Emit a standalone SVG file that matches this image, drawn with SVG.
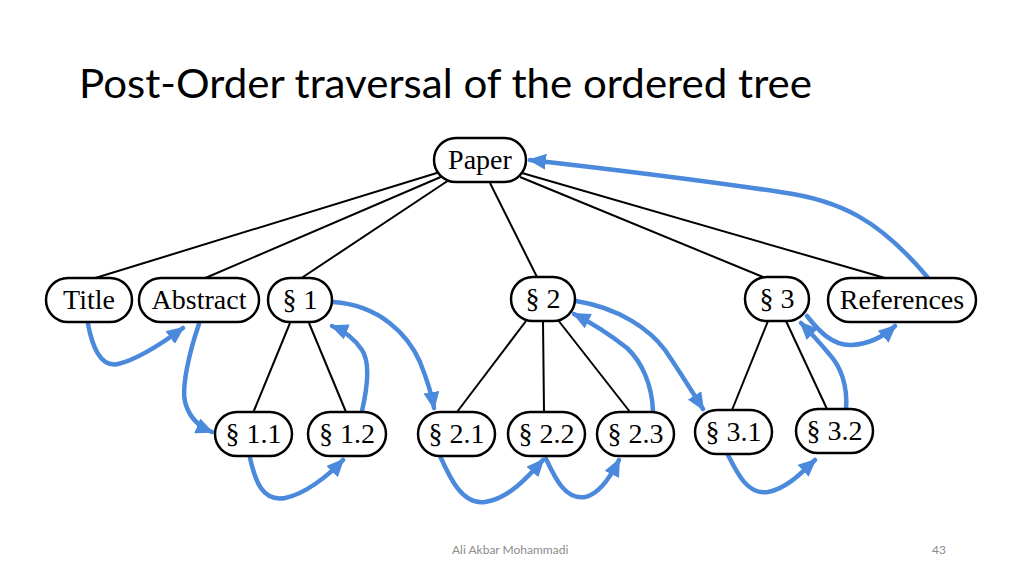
<svg xmlns="http://www.w3.org/2000/svg" width="1024" height="576" viewBox="0 0 1024 576">
<style>
.node rect{fill:#fff;stroke:#000;stroke-width:2.5}
.node text{font-family:"Liberation Serif","Times New Roman",serif;font-size:28px;fill:#000;text-anchor:middle}
.tree line{stroke:#000;stroke-width:2}
.trav path{fill:none;stroke:#4A89DC;stroke-width:4.5;stroke-linecap:round;marker-end:url(#ah)}
</style>
<defs>
<marker id="ah" markerUnits="userSpaceOnUse" markerWidth="20" markerHeight="16" refX="16" refY="8" orient="auto">
<path d="M0,0 L18,8 L0,16 z" fill="#4A89DC"/>
</marker>
</defs>
<rect width="1024" height="576" fill="#fff"/>
<text x="79" y="98" font-family="Lato,'Open Sans',sans-serif" font-size="40" textLength="733" lengthAdjust="spacingAndGlyphs" fill="#000">Post-Order traversal of the ordered tree</text>
<g id="connectors">
<g class="tree">
<line x1="440" y1="172" x2="92" y2="279"/>
<line x1="443" y1="176" x2="203" y2="279"/>
<line x1="449" y1="180" x2="300" y2="279"/>
<line x1="490" y1="183" x2="537" y2="277"/>
<line x1="520" y1="177" x2="763" y2="277"/>
<line x1="522" y1="173" x2="885" y2="278"/>
<line x1="290" y1="323" x2="253" y2="413"/>
<line x1="309" y1="323" x2="346" y2="412"/>
<line x1="526" y1="321" x2="457" y2="412"/>
<line x1="543" y1="321" x2="544" y2="412"/>
<line x1="558" y1="320" x2="630" y2="412"/>
<line x1="768" y1="321" x2="732" y2="410"/>
<line x1="786" y1="321" x2="827" y2="409"/>
</g>
<g class="trav">
<path d="M88,324 C92,345 100,368 118,364 C135,360 160,345 183,328"/>
<path d="M199,324 C190,350 180,390 186,405 C190,418 200,427 212,432"/>
<path d="M250,458 C255,480 262,502 285,498 C305,494 328,476 343,460"/>
<path d="M362,411 C368,385 370,362 362,350 C354,338 342,330 332,326"/>
<path d="M333,302 C380,305 408,335 420,362 C428,382 432,396 434,408"/>
<path d="M440,456 C450,478 462,505 485,502 C508,499 528,477 543,460"/>
<path d="M546,459 C555,478 565,500 585,497 C600,494 611,476 619,460"/>
<path d="M653,411 C652,385 642,362 627,348 C608,333 588,321 574,314"/>
<path d="M576,301 C620,308 650,330 665,350 C680,372 693,393 703,409"/>
<path d="M728,455 C738,475 748,495 768,492 C788,488 803,471 815,460"/>
<path d="M846,409 C848,385 840,366 830,355 C820,343 810,332 801,323"/>
<path d="M807,316 C818,330 832,346 852,345 C870,344 884,336 895,326"/>
<path d="M929,279 C880,220 840,200 780,192 C700,180 600,168 530,160"/>
</g>
</g>
<g id="n-paper" class="node"><rect x="434" y="138" width="92" height="44" rx="22"/><text x="480" y="169">Paper</text></g>
<g id="n-title" class="node"><rect x="46" y="278" width="86" height="44" rx="22"/><text x="89" y="309">Title</text></g>
<g id="n-abstract" class="node"><rect x="139" y="278" width="120" height="44" rx="22"/><text x="199" y="309">Abstract</text></g>
<g id="n-s1" class="node"><rect x="268" y="278" width="64" height="44" rx="22"/><text x="300" y="309">§ 1</text></g>
<g id="n-s2" class="node"><rect x="511" y="277" width="64" height="44" rx="22"/><text x="543" y="308">§ 2</text></g>
<g id="n-s3" class="node"><rect x="745" y="277" width="64" height="44" rx="22"/><text x="777" y="308">§ 3</text></g>
<g id="n-refs" class="node"><rect x="828" y="278" width="148" height="44" rx="22"/><text x="902" y="309">References</text></g>
<g id="n-s11" class="node"><rect x="215" y="412" width="77" height="44" rx="22"/><text x="253.5" y="443">§ 1.1</text></g>
<g id="n-s12" class="node"><rect x="308" y="412" width="78" height="44" rx="22"/><text x="347" y="443">§ 1.2</text></g>
<g id="n-s21" class="node"><rect x="418" y="412" width="77" height="44" rx="22"/><text x="456.5" y="443">§ 2.1</text></g>
<g id="n-s22" class="node"><rect x="508" y="412" width="77" height="44" rx="22"/><text x="546.5" y="443">§ 2.2</text></g>
<g id="n-s23" class="node"><rect x="597" y="412" width="77" height="44" rx="22"/><text x="635.5" y="443">§ 2.3</text></g>
<g id="n-s31" class="node"><rect x="695" y="410" width="77" height="44" rx="22"/><text x="733.5" y="441">§ 3.1</text></g>
<g id="n-s32" class="node"><rect x="796" y="409" width="77" height="44" rx="22"/><text x="834.5" y="440">§ 3.2</text></g>
<text x="452" y="554" font-family="Lato,'Open Sans',sans-serif" font-size="12" fill="#8c8c8c">Ali Akbar Mohammadi</text>
<text x="932" y="554" font-family="Lato,'Open Sans',sans-serif" font-size="12" fill="#8c8c8c">43</text>
</svg>
